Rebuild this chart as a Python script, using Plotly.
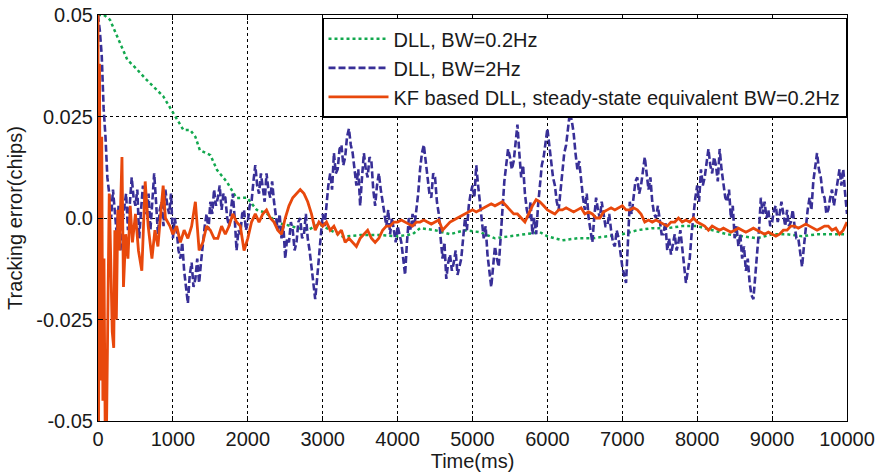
import plotly.graph_objects as go

# ---------------- data ----------------
green_t = [0, 80, 160, 250, 390, 500, 650, 870, 1000, 1140, 1230, 1300, 1360, 1500,
           1590, 1720, 1850, 1990, 2120, 2250, 2390, 2520, 2670, 2800, 2950, 3100,
           3270, 3500, 3765, 4000, 4200, 4300, 4500, 4700, 4900, 5100, 5300, 5500,
           5700, 5900, 6000, 6200, 6400, 6600, 6800, 7000, 7200, 7400, 7600, 7800,
           8000, 8200, 8400, 8600, 8800, 9000, 9200, 9400, 9600, 9800, 10000]
green_v = [0.050, 0.050, 0.0488, 0.045, 0.039, 0.037, 0.034, 0.030, 0.026, 0.0217,
           0.0217, 0.020, 0.0167, 0.0155, 0.0118, 0.0089, 0.0049, 0.005, 0.002, 0.0012,
           -0.0012, -0.0017, -0.0025, -0.003, -0.0015, -0.003, -0.0046, -0.0042, -0.0042,
           -0.0045, -0.004, -0.0025, -0.003, -0.004, -0.003, -0.0035, -0.005, -0.0045,
           -0.004, -0.0035, -0.0045, -0.0055, -0.005, -0.005, -0.0045, -0.004, -0.003,
           -0.0025, -0.0025, -0.002, -0.002, -0.003, -0.004, -0.0045, -0.005, -0.004,
           -0.004, -0.0045, -0.004, -0.004, -0.004]

blue_t = list(range(0, 10001, 25))
blue_v = [
    0.050, 0.046, 0.040, 0.027, 0.020, 0.010, 0.006, 0.000, 0.007, 0.002,
    -0.004, 0.003, -0.008, -0.001, 0.002, 0.006, -0.003, 0.004, 0.010, 0.005,
    0.003, 0.007, -0.005, 0.002, 0.008, 0.002, 0.001, 0.006, -0.003, 0.004,
    0.011, 0.004, -0.004, 0.002, 0.004, -0.002, 0.007, 0.003, 0.001, 0.006,
    -0.005, 0.000, -0.003, -0.008, -0.010, -0.006, -0.013, -0.017, -0.021, -0.014,
    -0.011, -0.017, -0.015, -0.010, -0.016, -0.011, -0.006, -0.002, 0.001, -0.003,
    0.004, 0.001, 0.007, 0.003, 0.005, 0.008, 0.002, 0.006, 0.005, 0.000,
    -0.002, 0.003, 0.006, 0.000, -0.008, -0.003, -0.004, 0.001, 0.002, -0.003,
    -0.001, 0.003, 0.004, 0.009, 0.013, 0.008, 0.006, 0.011, 0.008, 0.004,
    0.011, 0.007, 0.005, 0.009, 0.004, 0.000, -0.003, 0.001, -0.005, -0.002,
    -0.010, -0.005, -0.006, -0.001, -0.003, -0.008, -0.006, -0.001, 0.000, -0.005,
    -0.004, 0.001, -0.005, -0.008, -0.012, -0.015, -0.020, -0.015, -0.010, -0.004,
    0.001, -0.002, 0.004, 0.008, 0.011, 0.007, 0.016, 0.011, 0.012, 0.017,
    0.018, 0.013, 0.015, 0.020, 0.022, 0.018, 0.016, 0.011, 0.008, 0.012,
    0.003, 0.010, 0.016, 0.012, 0.010, 0.015, 0.014, 0.007, 0.003, 0.008,
    0.011, 0.007, 0.004, 0.000, -0.002, 0.002, -0.004, 0.000, -0.003, -0.006,
    -0.002, -0.004, -0.006, -0.010, -0.014, -0.006, 0.000, -0.003, 0.001, -0.002,
    0.002, 0.006, 0.012, 0.016, 0.018, 0.013, 0.010, 0.006, 0.005, 0.011,
    0.010, 0.004, 0.001, -0.005, -0.010, -0.006, -0.015, -0.011, -0.009, -0.013,
    -0.011, -0.008, -0.014, -0.012, -0.010, -0.005, 0.000, -0.003, 0.003, 0.006,
    0.008, 0.005, 0.013, 0.008, 0.003, -0.001, -0.005, -0.002, -0.009, -0.013,
    -0.017, -0.012, -0.007, -0.010, -0.012, -0.005, 0.003, 0.009, 0.013, 0.017,
    0.015, 0.012, 0.014, 0.019, 0.023, 0.016, 0.010, 0.013, 0.006, 0.002,
    0.000, 0.004, -0.004, 0.000, -0.004, 0.003, 0.009, 0.013, 0.015, 0.019,
    0.022, 0.018, 0.014, 0.010, 0.008, 0.004, 0.002, 0.007, 0.012, 0.016,
    0.018, 0.023, 0.026, 0.024, 0.021, 0.016, 0.012, 0.014, 0.009, 0.005,
    0.002, 0.006, 0.000, -0.003, -0.006, 0.000, 0.005, 0.002, 0.000, 0.004,
    0.001, -0.002, -0.002, 0.001, -0.003, -0.006, -0.007, -0.003, -0.005, -0.009,
    -0.012, -0.014, -0.016, -0.006, 0.004, 0.001, 0.006, 0.009, 0.010, 0.006,
    0.008, 0.012, 0.015, 0.011, 0.007, 0.010, 0.004, 0.001, 0.000, 0.003,
    -0.001, -0.004, -0.004, -0.001, -0.008, -0.005, -0.009, -0.006, -0.004, -0.008,
    -0.006, -0.003, -0.007, -0.011, -0.016, -0.013, -0.010, -0.004, 0.001, 0.005,
    0.008, 0.004, 0.012, 0.008, 0.010, 0.014, 0.017, 0.013, 0.011, 0.015,
    0.013, 0.009, 0.017, 0.012, 0.008, 0.005, 0.004, 0.007, 0.000, 0.003,
    -0.005, -0.002, -0.007, -0.004, -0.010, -0.007, -0.013, -0.010, -0.016, -0.019,
    -0.020, -0.015, -0.009, -0.003, 0.005, 0.001, 0.004, 0.000, 0.002, -0.002,
    -0.001, 0.002, 0.003, -0.001, 0.001, 0.004, 0.001, -0.002, 0.002, -0.002,
    -0.001, 0.002, -0.002, -0.005, -0.005, -0.009, -0.012, -0.007, -0.002, 0.002,
    0.005, 0.002, 0.009, 0.013, 0.016, 0.012, 0.010, 0.006, 0.005, 0.001,
    0.002, 0.005, 0.007, 0.003, 0.006, 0.010, 0.012, 0.008, 0.012, 0.006,
    0.001]

orange_t_early = [0, 8, 20, 35, 50, 65, 80, 95, 115, 130, 150, 170, 190, 210, 225, 245,
                  265, 285, 305, 320, 340, 370, 400, 430, 460, 500, 540, 585, 630, 670,
                  720, 760, 800, 840, 870, 900, 960]
orange_v_early = [0.050, -0.050, 0.038, -0.040, 0.020, -0.045, -0.010, -0.050, -0.050,
                  -0.020, 0.006, -0.010, -0.028, -0.032, -0.003, -0.025, 0.002, -0.008,
                  0.010, 0.015, -0.017, -0.004, -0.010, 0.003, -0.006, 0.001, -0.008,
                  -0.013, 0.009, -0.002, -0.010, -0.003, -0.007, 0.002, 0.008, 0.000,
                  -0.002]
orange_t_late = list(range(1000, 10001, 50))
orange_v_late = [
    -0.004, -0.002, -0.006, -0.003, -0.005, -0.002, 0.004, -0.008, -0.006, -0.002,
    -0.003, -0.005, -0.005, -0.002, -0.004, -0.002, 0.001, -0.001, -0.002, -0.008,
    -0.005, -0.001, 0.001, -0.001, 0.001, 0.002, 0.000, -0.001, -0.003, -0.004,
    0.000, 0.003, 0.005, 0.006, 0.007, 0.006, 0.004, 0.001, -0.003, -0.001,
    -0.002, -0.001, -0.003, -0.002, -0.004, -0.003, -0.006, -0.005, -0.006, -0.007,
    -0.005, -0.004, -0.003, -0.005, -0.006, -0.005, -0.003, -0.002, -0.002, -0.001,
    -0.001, -0.0005, -0.001, -0.0015, -0.002, -0.001, -0.001, -0.0005, -0.001, -0.0015,
    -0.001, -0.0005, -0.003, -0.002, -0.001, -0.0005, 0.000, 0.0005, 0.001, 0.0015,
    0.002, 0.0015, 0.002, 0.0025, 0.003, 0.0035, 0.003, 0.0035, 0.004, 0.003,
    0.002, 0.001, 0.001, 0.000, -0.001, 0.001, 0.003, 0.0045, 0.004, 0.003,
    0.002, 0.0015, 0.001, 0.002, 0.002, 0.0025, 0.002, 0.0015, 0.002, 0.0025,
    0.001, 0.0015, 0.001, 0.000, 0.000, 0.0015, 0.002, 0.0025, 0.002, 0.0025,
    0.003, 0.002, 0.002, 0.0025, 0.002, 0.001, -0.001, -0.0005, -0.001, -0.0005,
    -0.001, -0.0015, -0.002, -0.001, -0.001, 0.000, -0.001, -0.0005, -0.001, 0.000,
    -0.001, -0.0015, -0.002, -0.003, -0.002, -0.0025, -0.003, -0.0025, -0.003, -0.0035,
    -0.003, -0.0025, -0.003, -0.0035, -0.003, -0.0025, -0.003, -0.0035, -0.004, -0.0035,
    -0.004, -0.0045, -0.004, -0.003, -0.003, -0.002, -0.002, -0.0025, -0.002, -0.0015,
    -0.002, -0.0025, -0.003, -0.0025, -0.002, -0.002, -0.003, -0.0025, -0.004, -0.003,
    -0.001]

orange_t = orange_t_early + orange_t_late
orange_v = orange_v_early + orange_v_late

names = ["DLL, BW=0.2Hz", "DLL, BW=2Hz", "KF based DLL, steady-state equivalent BW=0.2Hz"]
y_ticks = [-0.05, -0.025, 0.0, 0.025, 0.05]
y_tick_labels = ["-0.05", "-0.025", "0.0", "0.025", "0.05"]
x_ticks = list(range(0, 10001, 1000))
x_tick_labels = [str(v) for v in x_ticks]

# ---------------- figure ----------------
FONT = "Liberation Sans, Arial, Helvetica, sans-serif"
TXT = "#1a1a1a"
fig = go.Figure()
fig.add_trace(go.Scatter(x=green_t, y=green_v, name=names[0], mode="lines",
                         line=dict(color="#12a84e", width=2.5, dash="dot")))
fig.add_trace(go.Scatter(x=blue_t, y=blue_v, name=names[1], mode="lines",
                         line=dict(color="#382f97", width=2.6, dash="7px,3px")))
fig.add_trace(go.Scatter(x=orange_t, y=orange_v, name=names[2], mode="lines",
                         line=dict(color="#e8480c", width=2.8)))

axis_common = dict(showline=True, linecolor="black", linewidth=1, mirror="ticks",
                   ticks="inside", ticklen=5, tickcolor="black", automargin=False,
                   ticklabeloverflow="allow",
                   showgrid=True, gridcolor="black", gridwidth=1, griddash="dot",
                   zeroline=False, tickfont=dict(size=20, color=TXT, family=FONT))

fig.update_xaxes(range=[0, 10000], tickvals=x_ticks, ticktext=x_tick_labels,
                 title=dict(text="Time(ms)", standoff=2, font=dict(size=20, color=TXT, family=FONT)),
                 **axis_common)
fig.update_yaxes(range=[-0.05, 0.05], tickvals=y_ticks, ticktext=y_tick_labels,
                 title=dict(text="Tracking error(chips)", standoff=8,
                            font=dict(size=20, color=TXT, family=FONT)), **axis_common)

fig.update_layout(
    width=877, height=474,
    margin=dict(l=98, r=30, t=15, b=53),
    plot_bgcolor="white", paper_bgcolor="white",
    font=dict(family=FONT, color=TXT),
    legend=dict(x=1.0, xanchor="right", y=0.993, yanchor="top",
                bgcolor="white", bordercolor="black", borderwidth=1.5,
                font=dict(size=20, color=TXT, family=FONT),
                itemwidth=60),
    showlegend=True,
)

# remove the default page margin so the 877x474 figure fills the window exactly
fig.write_html("out.html", config={"displayModeBar": False},
               post_script="document.body.style.margin='0';")
